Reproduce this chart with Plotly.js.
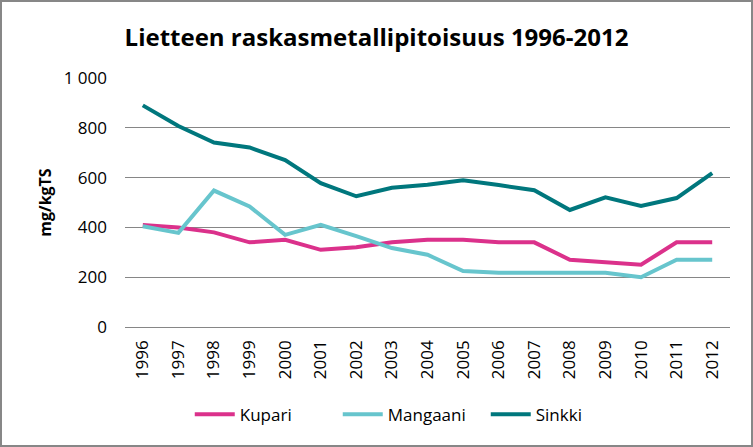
<!DOCTYPE html>
<html><head><meta charset="utf-8">
<script src="https://cdn.plot.ly/plotly-3.0.1.min.js"></script>
<style>
html,body{margin:0;padding:0;background:#fff;}
#wrap{position:relative;width:753px;height:447px;}
#chart{width:753px;height:447px;}
#frame{position:absolute;left:0;top:0;width:753px;height:447px;box-sizing:border-box;border:2px solid #878787;pointer-events:none;}
</style></head>
<body>
<div id="wrap"><div id="chart"></div><div id="frame"></div></div>
<script>
var years = ['1996','1997','1998','1999','2000','2001','2002','2003','2004','2005','2006','2007','2008','2009','2010','2011','2012'];
var kupari   = [410,400,380,340,350,310,320,340,350,350,340,340,270,262,250,340,340];
var mangaani = [405,378,548,484,370,410,365,317,290,225,218,218,218,218,200,270,270];
var sinkki   = [890,807,741,721,670,578,525,559,571,589,570,549,470,521,486,518,618];

var names = ['Kupari','Mangaani','Sinkki'];
var colors = ['#DB318B','#67C5CD','#00777D'];
var series = [kupari, mangaani, sinkki];

var traces = series.map(function(s,i){
  return {x: years, y: s, name: names[i], type:'scatter', mode:'lines',
          line:{color: colors[i], width:4}};
});

var layout = {
  width:753, height:447,
  margin:{l:125, r:23, t:78, b:120},
  paper_bgcolor:'#fff', plot_bgcolor:'#fff',
  separators: ', ',
  font:{family:'Open Sans, sans-serif', color:'#000'},
  title:{text:'<b>Lietteen raskasmetallipitoisuus 1996-2012</b>', x:0.5, xanchor:'center', y:0.917, yanchor:'middle',
         font:{size:24, family:'Open Sans, sans-serif', color:'#000'}},
  xaxis:{type:'category', range:[-0.5,16.5], tickangle:-90, tickfont:{size:17}, ticklabelstandoff:9,
         automargin:false, showgrid:false, showline:false, ticks:'', zeroline:false},
  yaxis:{range:[0,1000], tickvals:[0,200,400,600,800,1000], tickformat:',d', tickfont:{size:17},
         ticklabelstandoff:17, automargin:false,
         showgrid:true, gridcolor:'#868686', gridwidth:1, zeroline:true, zerolinecolor:'#868686', zerolinewidth:1,
         showline:false, ticks:'',
         title:{text:'<b>mg/kgTS</b>', font:{size:16}, standoff:8}},
  legend:{orientation:'h', xref:'container', yref:'container', x:0.252, xanchor:'left', y:0.072, yanchor:'middle',
          font:{size:17}, itemwidth:40, entrywidth:93},
  showlegend:true
};
Plotly.newPlot('chart', traces, layout, {displayModeBar:false, staticPlot:true});
</script>
</body></html>
